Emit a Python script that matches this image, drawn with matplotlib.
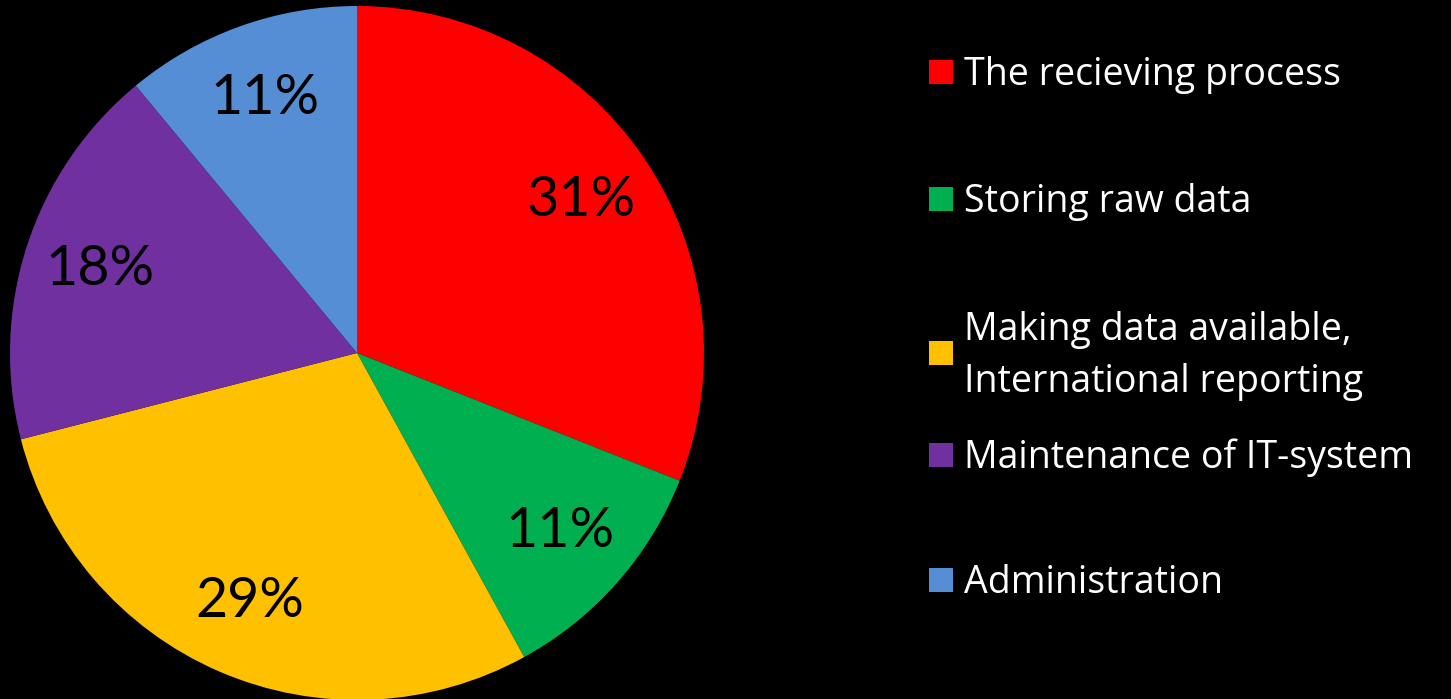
import matplotlib.pyplot as plt
from matplotlib.patches import Rectangle

categories = ['The recieving process', 'Storing raw data',
              'Making data available,\nInternational reporting',
              'Maintenance of IT-system', 'Administration']
shares = [31, 11, 29, 18, 11]
colors = ['#FF0000', '#00B050', '#FFC000', '#7030A0', '#558ED5']

plt.rcParams['font.family'] = ['Lato', 'DejaVu Sans']

W, H = 1451, 699
fig = plt.figure(figsize=(W / 100, H / 100), dpi=100, facecolor='black')

# pie: centre (357, 353) px, radius 347 px
cx, cy, r = 357, 353, 347
ax = fig.add_axes([(cx - r) / W, (H - cy - r) / H, 2 * r / W, 2 * r / H])
ax.set_facecolor('black')
wedges, texts, autotexts = ax.pie(shares, colors=colors, startangle=90, counterclock=False,
                                  autopct='%d%%', pctdistance=0.78, radius=1,
                                  wedgeprops=dict(linewidth=0))
for t in autotexts:
    t.set_fontsize(40)
    t.set_color('black')
ax.set_xlim(-1, 1)
ax.set_ylim(-1, 1)
ax.set_aspect('equal')
ax.axis('off')

# legend drawn by hand to keep the uneven spacing
leg_y = [72, 199, 353, 455, 580]
for lab, col, y in zip(categories, colors, leg_y):
    fig.patches.append(Rectangle((929 / W, (H - y - 12) / H), 24 / W, 24 / H,
                                 transform=fig.transFigure, facecolor=col, edgecolor='none'))
    fig.text(964 / W, (H - y - 3) / H, lab, color='white', fontsize=27, va='center',
             ha='left', linespacing=1.45, family=['Open Sans', 'DejaVu Sans'])

fig.savefig('out.png', dpi=100, facecolor='black')
